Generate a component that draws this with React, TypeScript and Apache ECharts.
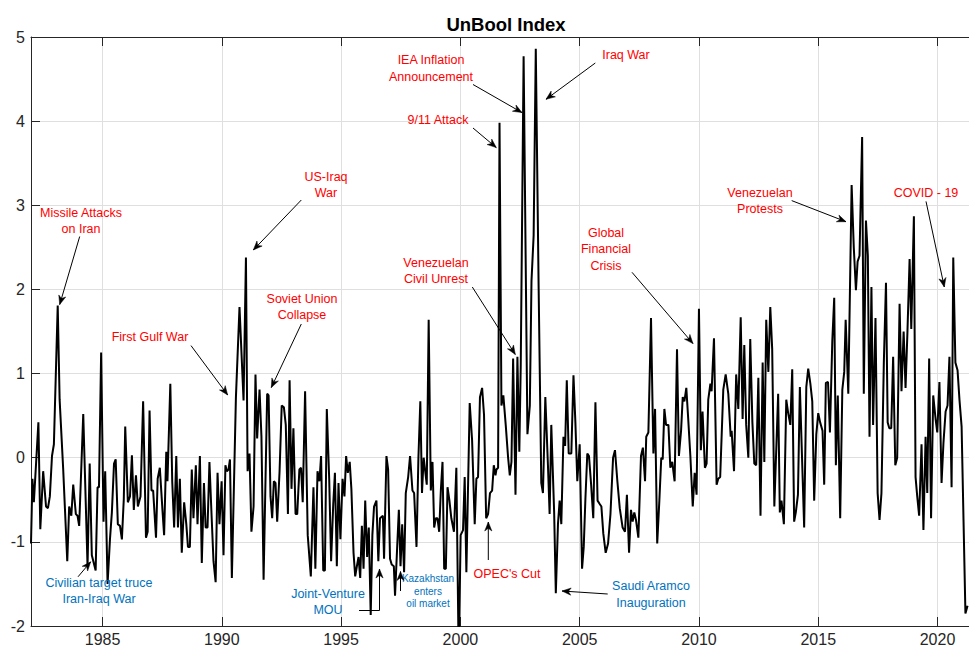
import React, { useEffect, useRef } from "react";
import * as echarts from "echarts";

// ---- DATA: [decimal year, UnBool index value] ----
const seg1982to1986: [number, number][] = [
  [1982.0, -1.02], [1982.06, -0.25], [1982.12, -0.53], [1982.31, 0.42], [1982.39, -0.85], [1982.51, -0.16],
  [1982.63, -0.58], [1982.71, -0.6], [1982.79, -0.46], [1982.88, 0.02], [1982.96, 0.16], [1983.12, 1.81],
  [1983.2, 0.69], [1983.35, -0.14], [1983.52, -1.23], [1983.6, -0.58], [1983.69, -0.69], [1983.77, -0.32],
  [1983.88, -0.67], [1983.95, -0.69], [1984.02, -0.81], [1984.19, 0.52], [1984.37, -1.29], [1984.46, -0.07],
  [1984.55, -1.16], [1984.71, -1.34], [1984.79, -0.35], [1984.85, -0.35], [1984.94, 1.25], [1985.04, -0.76],
  [1985.11, -0.16], [1985.21, -1.5], [1985.31, -0.97], [1985.39, -0.65], [1985.48, -0.07], [1985.55, -0.02],
  [1985.64, -0.79], [1985.73, -0.81], [1985.81, -0.97], [1985.89, -0.49], [1985.95, 0.37], [1986.06, -0.53],
  [1986.15, -0.46], [1986.23, 0.03], [1986.31, -0.62], [1986.4, -0.21], [1986.48, -0.58], [1986.59, -0.46],
  [1986.7, 0.67],
];

const seg1986to1991: [number, number][] = [
  [1986.82, -0.95], [1986.89, -0.88], [1986.97, 0.56], [1987.05, -0.39], [1987.12, -0.39], [1987.24, -0.95],
  [1987.31, -0.25], [1987.4, -0.12], [1987.51, -0.62], [1987.58, -0.92], [1987.67, 0.07], [1987.72, -0.28],
  [1987.84, 0.88], [1987.92, -0.28], [1988.0, -0.83], [1988.09, 0.02], [1988.16, -0.83], [1988.24, -0.25],
  [1988.32, -1.13], [1988.42, -0.53], [1988.51, -0.79], [1988.58, -1.06], [1988.66, -1.06], [1988.74, -0.14],
  [1988.81, -0.72], [1988.91, -0.09], [1988.98, -0.79], [1989.08, 0.02], [1989.16, -1.25], [1989.25, -0.3],
  [1989.32, -0.83], [1989.4, -0.83], [1989.48, -0.05], [1989.57, -0.69], [1989.65, -1.23], [1989.74, -1.48],
  [1989.82, -0.18], [1989.9, -0.79], [1989.99, -0.28], [1990.07, -1.16], [1990.15, -0.09], [1990.21, -0.16],
  [1990.28, -0.14], [1990.34, -0.02], [1990.42, -1.43], [1990.59, 0.72], [1990.74, 1.79], [1990.91, 0.68],
  [1991.01, 2.38], [1991.08, -0.16], [1991.16, 0.05], [1991.24, -0.88], [1991.33, -0.58], [1991.41, 0.99],
  [1991.48, 0.23], [1991.58, 0.81], [1991.66, 0.25], [1991.75, -1.45],
];

const seg1991to1996: [number, number][] = [
  [1991.9, 0.76], [1991.96, 0.74], [1992.04, -0.46], [1992.11, -0.72], [1992.18, -0.28], [1992.25, -0.3],
  [1992.32, -0.76], [1992.42, -0.16], [1992.51, 0.62], [1992.6, 0.6], [1992.68, 0.39], [1992.77, -0.67],
  [1992.84, 0.92], [1992.92, -0.37], [1993.0, 0.35], [1993.09, -0.67], [1993.16, -0.67], [1993.25, -0.14],
  [1993.32, -0.12], [1993.39, -0.53], [1993.49, 0.79], [1993.6, -0.92], [1993.73, -1.41], [1993.84, -0.35],
  [1993.92, -1.32], [1994.01, -0.16], [1994.09, -0.28], [1994.16, 0.02], [1994.25, -1.34], [1994.32, -1.34],
  [1994.4, 0.58], [1994.5, -0.25], [1994.58, -1.23], [1994.67, -0.55], [1994.74, -0.18], [1994.82, -1.29],
  [1994.89, -0.3], [1994.97, -0.97], [1995.06, -0.25], [1995.14, -0.46], [1995.21, 0.02], [1995.28, -0.18],
  [1995.36, -0.05], [1995.43, -0.37], [1995.52, -1.13], [1995.59, -1.41], [1995.66, -1.29], [1995.73, -1.18],
  [1995.8, -1.43], [1995.87, -0.81], [1995.94, -1.32], [1996.01, -0.51], [1996.09, -1.18], [1996.16, -0.83],
  [1996.24, -1.87], [1996.31, -0.92], [1996.38, -0.58], [1996.48, -0.51], [1996.56, -1.23], [1996.63, -0.72],
];

const seg1996to2001: [number, number][] = [
  [1996.75, -0.69], [1996.8, -1.2], [1996.9, 0.02], [1996.97, -0.14], [1997.05, -1.2], [1997.12, -1.27],
  [1997.21, -1.29], [1997.26, -1.64], [1997.35, -1.06], [1997.42, -0.62], [1997.49, -1.29], [1997.56, -0.79],
  [1997.64, -1.36], [1997.71, -0.42], [1997.81, -0.23], [1997.89, 0.02], [1997.99, -0.39], [1998.06, -0.42],
  [1998.16, -1.06], [1998.24, 0.0], [1998.32, 0.67], [1998.39, -0.42], [1998.46, 0.0], [1998.59, -0.32],
  [1998.67, 1.64], [1998.76, -0.39], [1998.83, -0.05], [1998.9, -0.83], [1998.97, -0.72], [1999.04, -0.72],
  [1999.11, -0.88], [1999.18, -0.39], [1999.25, -0.05], [1999.32, -1.32], [1999.39, -1.32], [1999.46, -0.35],
  [1999.54, -0.51], [1999.62, -0.72], [1999.73, -0.88], [1999.83, -0.12], [1999.93, -2.4], [2000.01, -0.92],
  [2000.11, -0.86], [2000.18, -0.23], [2000.25, -1.36], [2000.39, 0.65], [2000.49, 0.21], [2000.6, -0.79],
  [2000.67, -0.25], [2000.74, -0.23], [2000.82, 0.72], [2000.91, 0.83], [2000.99, 0.51], [2001.08, -0.72],
  [2001.16, -0.67], [2001.24, -0.42], [2001.33, -0.39], [2001.4, -0.09], [2001.47, -0.21],
];

const seg2001to2006: [number, number][] = [
  [2001.51, -0.14], [2001.58, -0.12], [2001.64, 3.98], [2001.72, 0.62], [2001.8, 0.74], [2001.9, 0.39],
  [2002.0, 0.0], [2002.07, -0.21], [2002.14, -0.05], [2002.21, 1.18], [2002.31, -0.44], [2002.39, 1.2],
  [2002.47, 0.07], [2002.53, 1.11], [2002.65, 4.77], [2002.81, 0.28], [2002.91, 0.62], [2002.98, 2.1],
  [2003.07, 2.64], [2003.16, 4.86], [2003.28, 2.01], [2003.39, -0.3], [2003.46, -0.42], [2003.56, 0.72],
  [2003.67, -0.09], [2003.74, -0.67], [2003.81, 0.39], [2003.93, -0.65], [2004.0, -1.61], [2004.09, -0.79],
  [2004.16, -0.51], [2004.23, -0.79], [2004.32, 0.25], [2004.39, 0.14], [2004.46, 0.92], [2004.54, 0.05],
  [2004.65, 0.05], [2004.74, 0.98], [2004.82, 0.42], [2004.9, -0.28], [2005.0, 0.16], [2005.1, -1.32],
  [2005.17, -1.06], [2005.24, -0.49], [2005.32, 0.05], [2005.39, 0.02], [2005.48, -0.32], [2005.57, -0.72],
  [2005.66, 0.66], [2005.75, -0.51], [2005.84, -0.55], [2005.91, -0.58], [2005.99, -0.9], [2006.09, -1.13],
  [2006.19, -1.02], [2006.29, -0.67], [2006.4, 0.0],
];

const seg2006to2011: [number, number][] = [
  [2006.48, 0.09], [2006.58, -0.28], [2006.68, -0.6], [2006.8, -0.83], [2006.9, -0.88], [2006.98, -0.44],
  [2007.07, -1.13], [2007.15, -0.62], [2007.22, -0.76], [2007.29, -0.65], [2007.36, -0.74], [2007.46, -0.95],
  [2007.57, 0.02], [2007.65, 0.12], [2007.74, -0.28], [2007.79, 0.25], [2007.88, 0.3], [2007.99, 1.66],
  [2008.09, 0.05], [2008.16, 0.58], [2008.25, -1.02], [2008.34, -0.51], [2008.42, 0.0], [2008.48, -0.02],
  [2008.55, 0.58], [2008.62, 0.39], [2008.72, 0.39], [2008.8, -0.12], [2008.88, -0.05], [2008.98, -0.28],
  [2009.08, 1.29], [2009.16, 0.02], [2009.25, 0.32], [2009.32, 0.72], [2009.39, 0.67], [2009.47, 0.83],
  [2009.55, 0.46], [2009.64, 0.02], [2009.74, -0.58], [2009.82, -0.18], [2009.9, -0.44], [2010.0, 1.77],
  [2010.08, 0.09], [2010.15, 0.55], [2010.25, -0.12], [2010.32, -0.07], [2010.39, 0.69], [2010.48, 0.88],
  [2010.53, 0.79], [2010.63, 1.42], [2010.74, -0.32], [2010.81, -0.25], [2010.89, -0.23], [2011.02, 0.81],
  [2011.12, 0.99], [2011.23, 0.76], [2011.33, 0.25],
];

const seg2011to2016: [number, number][] = [
  [2011.37, 0.32], [2011.47, -0.16], [2011.56, 0.99], [2011.65, 0.58], [2011.75, 1.67], [2011.83, 0.46],
  [2011.9, 1.34], [2011.98, 0.39], [2012.07, 0.0], [2012.15, 1.41], [2012.24, 0.42], [2012.32, -0.07],
  [2012.4, -0.09], [2012.49, 0.95], [2012.58, -0.69], [2012.67, 1.13], [2012.74, -0.05], [2012.82, 1.64],
  [2012.91, 1.02], [2012.99, 1.79], [2013.07, 1.29], [2013.16, -0.58], [2013.32, 0.76], [2013.39, -0.65],
  [2013.46, -0.51], [2013.56, -0.79], [2013.66, 0.69], [2013.74, 0.53], [2013.83, 0.39], [2013.91, 1.05],
  [2013.99, -0.76], [2014.06, -0.65], [2014.15, -0.44], [2014.23, 0.84], [2014.32, 0.01], [2014.41, -0.83],
  [2014.5, 0.84], [2014.58, 1.06], [2014.67, 0.88], [2014.75, 0.67], [2014.83, -0.51], [2014.92, 0.28],
  [2015.0, 0.53], [2015.08, 0.42], [2015.18, 0.32], [2015.25, -0.32], [2015.32, 0.89], [2015.41, 0.9],
  [2015.49, 0.3], [2015.59, 1.39], [2015.67, 1.9], [2015.74, -0.09], [2015.82, 0.74], [2015.92, -0.72],
  [2016.01, 0.81], [2016.09, 1.02], [2016.15, 1.64],
];

const seg2016to2021: [number, number][] = [
  [2016.26, 0.76], [2016.4, 3.24], [2016.49, 2.5], [2016.58, 1.99], [2016.65, 2.33], [2016.73, 2.4],
  [2016.84, 3.81], [2016.91, 0.76], [2017.0, 2.82], [2017.08, 2.4], [2017.15, 0.25], [2017.23, 2.03],
  [2017.3, 0.39], [2017.4, 1.66], [2017.49, -0.42], [2017.57, -0.74], [2017.65, -0.42], [2017.75, 1.13],
  [2017.84, 2.08], [2017.91, 0.42], [2017.98, 0.35], [2018.06, 0.35], [2018.14, 1.2], [2018.23, -0.09],
  [2018.31, 0.0], [2018.41, 1.83], [2018.49, 0.79], [2018.58, 1.5], [2018.66, 0.83], [2018.74, 1.5],
  [2018.83, 2.36], [2018.9, 1.53], [2019.01, 2.87], [2019.08, -0.23], [2019.15, -0.46], [2019.23, -0.69],
  [2019.33, 0.16], [2019.41, -0.86], [2019.5, 0.25], [2019.57, -0.42], [2019.65, 1.18], [2019.73, -0.72],
  [2019.82, 0.74], [2019.92, 0.46], [2019.99, 0.3], [2020.08, 0.9], [2020.17, -0.3], [2020.25, 0.18],
  [2020.34, 0.55], [2020.42, 0.62], [2020.5, 1.2], [2020.59, -0.35], [2020.66, 2.38], [2020.75, 1.13],
  [2020.84, 1.04], [2020.92, 0.69], [2021.01, 0.37], [2021.09, -0.74], [2021.17, -1.85], [2021.26, -1.76],
];

const xTickYears = [1985, 1990, 1995, 2000, 2005, 2010, 2015, 2020];
const xMin = 1982;
const xMax = 2021.32; // right edge of the visible window
const yMin = -2;
const yMax = 5;
const chartTitle = "UnBool Index";

// ---- annotations (figure-level, like MATLAB annotation objects) ----
const RED = "#ff0000";
const BLUE = "#0072BD";
const notes = [
  { text: "Missile Attacks\non Iran", x: 81, y: 221, color: RED },
  { text: "First Gulf War", x: 150, y: 337, color: RED },
  { text: "US-Iraq\nWar", x: 326, y: 185, color: RED },
  { text: "Soviet Union\nCollapse", x: 302, y: 307, color: RED },
  { text: "Civilian target truce\nIran-Iraq War", x: 99, y: 591, color: BLUE },
  { text: "Joint-Venture\nMOU", x: 328, y: 602, color: BLUE },
  { text: "Kazakhstan\nenters\noil market", x: 428, y: 591, color: BLUE, size: 10, lh: 12.5 },
  { text: "IEA Inflation\nAnnouncement", x: 431, y: 68.5, color: RED },
  { text: "9/11 Attack", x: 438, y: 120, color: RED },
  { text: "Venezuelan\nCivil Unrest", x: 436, y: 271, color: RED },
  { text: "OPEC's Cut", x: 507, y: 574, color: RED },
  { text: "Iraq War", x: 626, y: 55, color: RED },
  { text: "Global\nFinancial\nCrisis", x: 606, y: 249, color: RED },
  { text: "Saudi Aramco\nInauguration", x: 651, y: 594.5, color: BLUE },
  { text: "Venezuelan\nProtests", x: 760, y: 201, color: RED },
  { text: "COVID - 19", x: 926, y: 193, color: RED },
];

const arrows: number[][][] = [
  [[79.7, 236.5], [59.7, 304.6]],
  [[191, 345.6], [227.7, 395]],
  [[301.3, 200], [253.3, 250]],
  [[301.3, 324], [271.3, 387.6]],
  [[78, 576.8], [90.7, 561.8]],
  [[359, 610.5], [379.5, 610.5], [379.5, 569]],
  [[400.5, 591], [400.5, 571.5]],
  [[473, 84.5], [522, 112.6]],
  [[473, 128], [496.3, 147.6]],
  [[472.3, 287], [515.3, 354.5]],
  [[488.3, 560], [488.3, 522]],
  [[595.3, 63], [546, 99.3]],
  [[607.7, 594], [562, 591]],
  [[632, 272.3], [693, 343.6]],
  [[791.7, 200.6], [846, 221.7]],
  [[926, 201.4], [944.3, 287]],
];

const FONT = "'Liberation Sans', Arial, Helvetica, sans-serif";
const AXIS = "#262626";

function arrowHead(p1: number[], p2: number[]) {
  const L = 9;
  const W = 3.6;
  const dx = p2[0] - p1[0];
  const dy = p2[1] - p1[1];
  const len = Math.hypot(dx, dy) || 1;
  const ux = dx / len;
  const uy = dy / len;
  const px = -uy;
  const py = ux;
  const bx = p2[0] - ux * L;
  const by = p2[1] - uy * L;
  const nx = p2[0] - ux * L * 0.7;
  const ny = p2[1] - uy * L * 0.7;
  return [
    [p2[0], p2[1]],
    [bx + px * W, by + py * W],
    [nx, ny],
    [bx - px * W, by - py * W],
  ];
}

export default function App() {
  const ref = useRef<HTMLDivElement>(null);

  useEffect(() => {
    if (!ref.current) return;
    const chart = echarts.init(ref.current, undefined, { renderer: "svg" });
    const data = [
      ...seg1982to1986,
      ...seg1986to1991,
      ...seg1991to1996,
      ...seg1996to2001,
      ...seg2001to2006,
      ...seg2006to2011,
      ...seg2011to2016,
      ...seg2016to2021,
    ];

    const graphics: any[] = [
      {
        type: "text",
        x: 506,
        y: 24,
        z: 100,
        style: {
          text: chartTitle,
          fill: "#000",
          font: `bold 18.5px ${FONT}`,
          align: "center",
          verticalAlign: "middle",
        },
      },
    ];
    notes.forEach((n: any) => {
      const size = n.size || 12.5;
      graphics.push({
        type: "text",
        x: n.x,
        y: n.y,
        z: 100,
        style: {
          text: n.text,
          fill: n.color,
          fontSize: size,
          fontFamily: FONT,
          lineHeight: n.lh || 16.5,
          align: "center",
          verticalAlign: "middle",
        },
      });
    });
    arrows.forEach((pts) => {
      graphics.push({
        type: "polyline",
        z: 100,
        shape: { points: pts },
        style: { stroke: "#000", lineWidth: 1, fill: null },
      });
      graphics.push({
        type: "polygon",
        z: 101,
        shape: { points: arrowHead(pts[pts.length - 2], pts[pts.length - 1]) },
        style: { fill: "#000", stroke: "#000", lineWidth: 0.5 },
      });
    });

    chart.setOption({
      animation: false,
      backgroundColor: "#fff",
      grid: {
        left: 31,
        right: 0,
        top: 37,
        bottom: 22,
        containLabel: false,
        outerBoundsMode: "none",
      },
      xAxis: [
        {
          type: "value",
          position: "bottom",
          min: xMin,
          max: xMax,
          splitNumber: 8,
          axisLine: { show: true, onZero: false, lineStyle: { color: AXIS, width: 1 } },
          axisTick: {
            show: true,
            inside: true,
            length: 9,
            customValues: xTickYears,
            lineStyle: { color: AXIS, width: 1 },
          },
          axisLabel: {
            customValues: xTickYears,
            fontSize: 16,
            fontFamily: FONT,
            color: AXIS,
            margin: 5,
            formatter: (v: number) => String(v),
          },
          splitLine: { show: true, lineStyle: { color: "#dfdfdf", width: 1 } },
        },
        {
          type: "value",
          position: "top",
          min: xMin,
          max: xMax,
          axisLine: { show: true, onZero: false, lineStyle: { color: AXIS, width: 1 } },
          axisTick: {
            show: true,
            inside: true,
            length: 9,
            customValues: xTickYears,
            lineStyle: { color: AXIS, width: 1 },
          },
          axisLabel: { show: false },
          splitLine: { show: false },
        },
      ],
      yAxis: {
        type: "value",
        min: yMin,
        max: yMax,
        interval: 1,
        axisLine: { show: true, onZero: false, lineStyle: { color: AXIS, width: 1 } },
        axisTick: { show: true, inside: true, length: 9, lineStyle: { color: AXIS, width: 1 } },
        axisLabel: { fontSize: 16, fontFamily: FONT, color: AXIS, margin: 6 },
        splitLine: { show: true, lineStyle: { color: "#dfdfdf", width: 1 } },
      },
      series: [
        {
          type: "line",
          xAxisIndex: 0,
          data,
          showSymbol: false,
          clip: true,
          lineStyle: { color: "#000", width: 2 },
          z: 10,
        },
      ],
      graphic: graphics,
    });

    return () => chart.dispose();
  }, []);

  return (
    <div
      ref={ref}
      style={{ position: "fixed", left: 0, top: 0, width: 969, height: 648, background: "#fff" }}
    />
  );
}
